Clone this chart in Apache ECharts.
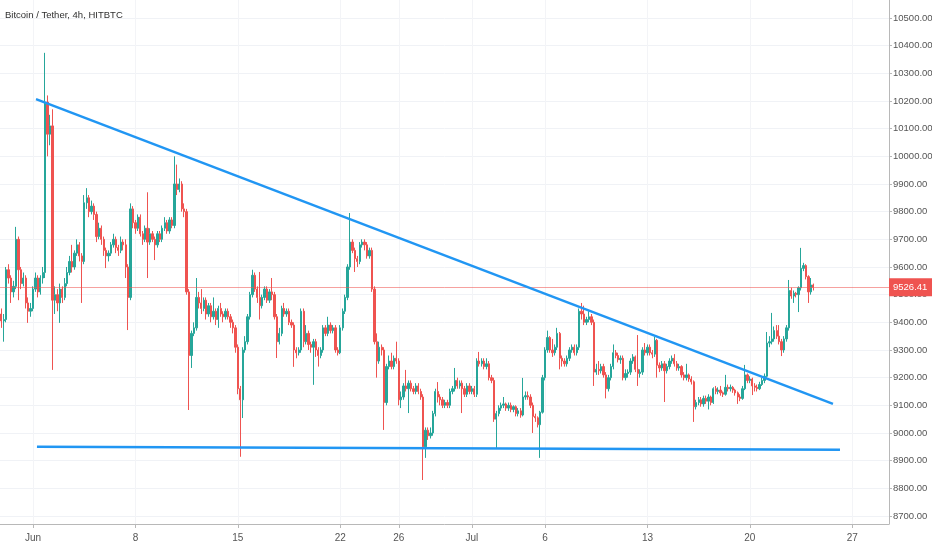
<!DOCTYPE html>
<html>
<head>
<meta charset="utf-8">
<title>Bitcoin / Tether, 4h, HITBTC</title>
<style>
  * { margin: 0; padding: 0; }
  body { background: #fff; }
  #chart { width: 932px; height: 550px; }
</style>
</head>
<body>
<div id="chart"></div>
<script src="https://cdn.jsdelivr.net/npm/echarts@6/dist/echarts.min.js"></script>
<script>
// 4h candles, first bar opens 2020-05-29 20:00 UTC
var firstBar = Date.UTC(2020, 4, 29, 20);
var barMs = 4 * 3600 * 1000;

// [open, close, low, high]
var candles = [
  [9430,9405,9380,9450],[9405,9410,9330,9430],[9410,9590,9400,9600],[9590,9560,9540,9610],[9560,9510,9470,9570],[9510,9530,9490,9550],
  [9530,9700,9520,9745],[9700,9590,9480,9710],[9590,9540,9520,9600],[9540,9560,9530,9580],[9560,9470,9450,9570],[9470,9440,9398,9490],
  [9440,9450,9420,9470],[9450,9520,9440,9530],[9520,9560,9510,9580],[9560,9510,9490,9570],[9510,9560,9500,9570],[9560,9580,9540,9600],
  [9580,10196,9560,10374],[10196,10080,10000,10220],[10080,10110,10040,10150],[10110,9480,9228,10170],[9480,9500,9430,9530],[9500,9470,9440,9520],
  [9470,9520,9398,9540],[9520,9490,9470,9530],[9490,9540,9480,9560],[9540,9580,9530,9600],[9580,9620,9570,9640],[9620,9600,9580,9680],
  [9600,9650,9590,9660],[9650,9680,9640,9700],[9680,9640,9620,9690],[9640,9620,9470,9650],[9620,9832,9610,9860],[9832,9850,9810,9885],
  [9850,9800,9780,9860],[9800,9820,9790,9840],[9820,9790,9770,9830],[9790,9710,9690,9800],[9710,9740,9700,9760],[9740,9700,9680,9750],
  [9700,9660,9640,9710],[9660,9640,9596,9670],[9640,9650,9620,9660],[9650,9680,9640,9690],[9680,9700,9670,9720],[9700,9670,9650,9710],
  [9670,9660,9640,9680],[9660,9690,9650,9710],[9690,9680,9660,9700],[9680,9600,9560,9700],[9600,9490,9372,9610],[9490,9810,9480,9830],
  [9810,9760,9740,9820],[9760,9740,9720,9770],[9740,9780,9730,9790],[9780,9720,9710,9790],[9720,9700,9680,9730],[9700,9740,9690,9750],
  [9740,9690,9560,9870],[9690,9720,9680,9740],[9720,9700,9690,9730],[9700,9680,9625,9710],[9680,9720,9670,9730],[9720,9700,9690,9730],
  [9700,9740,9690,9750],[9740,9760,9730,9780],[9760,9730,9720,9770],[9730,9770,9720,9780],[9770,9750,9740,9780],[9750,9900,9740,10000],
  [9900,9880,9860,9970],[9880,9900,9870,9920],[9900,9810,9800,9910],[9810,9800,9780,9830],[9800,9510,9500,9810],[9510,9280,9083,9520],
  [9280,9360,9235,9370],[9360,9380,9350,9400],[9380,9490,9370,9560],[9490,9470,9450,9510],[9470,9450,9430,9520],[9450,9480,9440,9490],
  [9480,9430,9410,9490],[9430,9460,9420,9470],[9460,9420,9400,9470],[9420,9440,9410,9490],[9440,9410,9390,9450],[9410,9450,9380,9460],
  [9450,9430,9420,9470],[9430,9420,9400,9440],[9420,9440,9410,9450],[9440,9420,9410,9450],[9420,9400,9380,9430],[9400,9380,9360,9410],
  [9380,9310,9290,9390],[9310,9160,9140,9320],[9160,9120,8914,9170],[9120,9300,9054,9310],[9300,9330,9290,9350],[9330,9420,9320,9430],
  [9420,9500,9410,9510],[9500,9570,9490,9590],[9570,9520,9510,9580],[9520,9490,9470,9530],[9490,9460,9410,9582],[9460,9490,9450,9500],
  [9490,9520,9480,9530],[9520,9480,9470,9530],[9480,9510,9470,9520],[9510,9500,9480,9560],[9500,9420,9410,9510],[9420,9330,9271,9430],
  [9330,9360,9320,9380],[9360,9450,9350,9460],[9450,9430,9420,9470],[9430,9440,9420,9450],[9440,9400,9390,9450],[9400,9390,9380,9410],
  [9390,9300,9239,9400],[9300,9290,9270,9310],[9290,9300,9280,9310],[9300,9440,9290,9450],[9440,9330,9310,9450],[9330,9360,9320,9390],
  [9360,9320,9300,9370],[9320,9310,9290,9330],[9310,9330,9174,9340],[9330,9300,9275,9340],[9300,9280,9240,9310],[9280,9300,9270,9310],
  [9300,9380,9290,9390],[9380,9360,9350,9390],[9360,9390,9350,9420],[9390,9370,9360,9400],[9370,9380,9360,9390],[9380,9300,9290,9390],
  [9300,9290,9280,9310],[9290,9380,9285,9390],[9380,9440,9370,9450],[9440,9490,9430,9500],[9490,9600,9480,9610],[9600,9690,9590,9795],
  [9690,9660,9650,9700],[9660,9630,9582,9670],[9630,9620,9600,9640],[9620,9680,9610,9690],[9680,9690,9670,9700],[9690,9680,9660,9700],
  [9680,9640,9630,9690],[9640,9660,9630,9670],[9660,9520,9510,9670],[9520,9330,9320,9530],[9330,9260,9200,9360],[9260,9310,9250,9330],
  [9310,9300,9280,9320],[9300,9110,9011,9310],[9110,9240,9100,9250],[9240,9260,9230,9280],[9260,9240,9230,9290],[9240,9270,9230,9280],
  [9270,9260,9250,9330],[9260,9120,9100,9270],[9120,9130,9090,9150],[9130,9170,9120,9180],[9170,9160,9150,9228],[9160,9180,9072,9190],
  [9180,9160,9150,9190],[9160,9150,9140,9170],[9150,9170,9140,9180],[9170,9150,9140,9180],[9150,9130,9120,9160],[9130,8950,8830,9140],
  [8950,9010,8910,9020],[9010,8990,8975,9020],[8990,9000,8980,9020],[9000,9070,8990,9080],[9070,9150,9060,9160],[9150,9130,9110,9184],
  [9130,9120,9100,9140],[9120,9100,9090,9130],[9100,9110,9090,9120],[9110,9100,9090,9120],[9100,9150,9090,9160],[9150,9160,9140,9170],
  [9160,9190,9150,9235],[9190,9170,9160,9200],[9170,9180,9160,9190],[9180,9160,9072,9190],[9160,9140,9130,9170],[9140,9170,9130,9180],
  [9170,9150,9140,9180],[9150,9160,9140,9170],[9160,9140,9130,9170],[9140,9260,9130,9270],[9260,9250,9240,9293],[9250,9260,9240,9270],
  [9260,9240,9230,9270],[9240,9250,9230,9270],[9250,9200,9190,9260],[9200,9190,9180,9210],[9190,9050,9040,9200],[9050,9070,8946,9080],
  [9070,9090,9060,9100],[9090,9100,9080,9110],[9100,9105,9090,9130],[9105,9090,9080,9110],[9090,9100,9080,9110],[9100,9085,9075,9110],
  [9085,9095,9075,9100],[9095,9070,9060,9100],[9070,9080,9060,9090],[9080,9065,9055,9090],[9065,9130,9060,9199],[9130,9135,9120,9150],
  [9135,9130,9120,9150],[9130,9100,9090,9140],[9100,9060,9000,9110],[9060,9055,9040,9070],[9055,9030,9020,9060],[9030,9075,8910,9080],
  [9075,9200,9070,9210],[9200,9300,9190,9310],[9300,9345,9290,9370],[9345,9300,9290,9350],[9300,9290,9275,9340],[9290,9310,9280,9320],
  [9310,9360,9300,9380],[9360,9270,9230,9365],[9270,9260,9240,9280],[9260,9250,9240,9270],[9250,9270,9240,9280],[9270,9300,9260,9310],
  [9300,9310,9290,9320],[9310,9290,9280,9320],[9290,9310,9280,9320],[9310,9440,9300,9450],[9440,9430,9410,9470],[9430,9400,9390,9460],
  [9400,9410,9390,9420],[9410,9420,9400,9440],[9420,9400,9390,9430],[9400,9220,9170,9410],[9220,9230,9210,9250],[9230,9225,9210,9260],
  [9225,9240,9215,9250],[9240,9210,9200,9250],[9210,9160,9125,9220],[9160,9200,9150,9210],[9200,9240,9190,9250],[9240,9290,9230,9320],
  [9290,9280,9270,9300],[9280,9265,9255,9290],[9265,9270,9250,9280],[9270,9200,9190,9280],[9200,9215,9190,9230],[9215,9220,9200,9230],
  [9220,9260,9210,9270],[9260,9275,9250,9285],[9275,9230,9220,9280],[9230,9215,9170,9354],[9215,9220,9200,9230],[9220,9300,9210,9310],
  [9300,9290,9280,9325],[9290,9310,9280,9320],[9310,9290,9280,9320],[9290,9285,9270,9300],[9285,9335,9275,9347],[9335,9245,9200,9340],
  [9245,9235,9220,9255],[9235,9250,9225,9260],[9250,9225,9112,9260],[9225,9240,9215,9250],[9240,9260,9230,9270],[9260,9270,9250,9280],
  [9270,9250,9240,9285],[9250,9235,9225,9260],[9235,9240,9225,9250],[9240,9210,9200,9245],[9210,9200,9190,9220],[9200,9210,9190,9250],
  [9210,9195,9185,9215],[9195,9185,9175,9205],[9185,9095,9040,9190],[9095,9110,9085,9120],[9110,9120,9100,9130],[9120,9105,9095,9130],
  [9105,9125,9095,9135],[9125,9115,9105,9135],[9115,9130,9085,9140],[9130,9110,9100,9135],[9110,9160,9105,9165],[9160,9150,9140,9170],
  [9150,9155,9140,9165],[9155,9145,9135,9170],[9145,9140,9130,9150],[9140,9165,9135,9210],[9165,9160,9150,9175],[9160,9165,9150,9175],
  [9165,9155,9145,9170],[9155,9145,9135,9160],[9145,9130,9105,9150],[9130,9125,9115,9140],[9125,9160,9120,9170],[9160,9210,9155,9246],
  [9210,9190,9180,9215],[9190,9195,9180,9205],[9195,9170,9137,9200],[9170,9165,9150,9180],[9165,9160,9150,9175],[9160,9175,9155,9185],
  [9175,9190,9170,9200],[9190,9205,9180,9215],[9205,9325,9200,9365],[9325,9330,9310,9350],[9330,9340,9320,9434],[9340,9370,9330,9385],
  [9370,9350,9340,9390],[9350,9330,9320,9390],[9330,9300,9278,9340],[9300,9340,9290,9350],[9340,9380,9330,9390],[9380,9515,9370,9553],
  [9515,9495,9485,9525],[9495,9505,9470,9515],[9505,9500,9490,9510],[9500,9525,9437,9530],[9525,9595,9515,9669],[9595,9605,9585,9615],
  [9605,9565,9555,9610],[9565,9510,9470,9570],[9510,9535,9500,9560],[9535,9526.41,9515,9540]
];
var lastPrice = 9526.41;

// trend lines drawn on the chart: [time, price]
var upperTrend = [[Date.UTC(2020, 5, 1, 4, 55), 10207], [Date.UTC(2020, 6, 25, 16, 20), 9105]];
var supportLine = [[Date.UTC(2020, 5, 1, 6, 30), 8950], [Date.UTC(2020, 6, 26, 3, 50), 8939]];

// axis ticks
var xTickDays = [Date.UTC(2020,5,1), Date.UTC(2020,5,8), Date.UTC(2020,5,15), Date.UTC(2020,5,22), Date.UTC(2020,5,26),
                 Date.UTC(2020,6,1), Date.UTC(2020,6,6), Date.UTC(2020,6,13), Date.UTC(2020,6,20), Date.UTC(2020,6,27)];
var xTickLabels = ['Jun', '8', '15', '22', '26', 'Jul', '6', '13', '20', '27'];
var yTicks = [8700, 8800, 8900, 9000, 9100, 9200, 9300, 9400, 9500, 9600, 9700, 9800, 9900, 10000, 10100, 10200, 10300, 10400, 10500];

var axisFont = "'Liberation Sans', Arial, sans-serif";

var seriesData = candles.map(function (r, i) {
    return [firstBar + i * barMs, r[0], r[1], r[2], r[3]];
});

var chart = echarts.init(document.getElementById('chart'));
chart.setOption({
    animation: false,
    backgroundColor: '#ffffff',
    title: {
        text: 'Bitcoin / Tether, 4h, HITBTC',
        left: 5,
        top: 10,
        padding: 0,
        textStyle: { fontSize: 9.5, fontWeight: 'normal', color: '#2f2f2f', fontFamily: axisFont }
    },
    grid: { left: 0, right: 43, top: 0, bottom: 26, outerBoundsMode: 'none' },
    // timestamps on a plain value axis so the tick list can be given exactly
    xAxis: {
        type: 'value',
        min: Date.UTC(2020, 4, 29, 17, 51),
        max: Date.UTC(2020, 6, 29, 12, 15),
        axisLine: { lineStyle: { color: '#b8b8b8' } },
        axisTick: { customValues: xTickDays, length: 4, lineStyle: { color: '#b8b8b8' } },
        axisLabel: {
            customValues: xTickDays,
            margin: 9,
            color: '#555',
            fontSize: 10,
            fontFamily: axisFont,
            formatter: function (v) {
                for (var i = 0; i < xTickDays.length; i++) {
                    if (Math.abs(xTickDays[i] - v) < 60000) return xTickLabels[i];
                }
                return '';
            }
        },
        splitLine: { show: true, lineStyle: { color: '#f3f4f7' } }
    },
    yAxis: {
        type: 'value',
        position: 'right',
        min: 8671,
        max: 10565,
        axisLine: { show: true, lineStyle: { color: '#b8b8b8' } },
        axisTick: { show: true, customValues: yTicks, length: 3, lineStyle: { color: '#b8b8b8' } },
        axisLabel: {
            customValues: yTicks,
            margin: 4,
            color: '#555',
            fontSize: 9.5,
            fontFamily: axisFont,
            formatter: function (v) { return v.toFixed(2); }
        },
        splitLine: { show: true, lineStyle: { color: '#f0f2f6' } }
    },
    series: [
        {
            name: 'BTCUSDT',
            type: 'candlestick',
            data: seriesData,
            encode: { x: 0, y: [1, 2, 3, 4] },
            barWidth: 1.8,
            itemStyle: {
                color: '#26a69a',
                color0: '#ef5350',
                borderColor: '#26a69a',
                borderColor0: '#ef5350',
                borderWidth: 1
            },
            markLine: {
                silent: true,
                symbol: ['none', 'none'],
                data: [{ yAxis: lastPrice }],
                lineStyle: { color: 'rgba(239,83,80,0.55)', width: 1, type: 'solid' },
                label: {
                    position: 'end',
                    distance: 0,
                    formatter: function () { return lastPrice.toFixed(2); },
                    backgroundColor: '#ef5350',
                    color: '#ffffff',
                    fontSize: 9.5,
                    fontFamily: axisFont,
                    padding: [4, 5, 4, 4]
                }
            }
        },
        {
            name: 'trend',
            type: 'line',
            data: upperTrend,
            symbol: 'none',
            z: 5,
            lineStyle: { color: '#2196f3', width: 2.5 }
        },
        {
            name: 'support',
            type: 'line',
            data: supportLine,
            symbol: 'none',
            z: 5,
            lineStyle: { color: '#2196f3', width: 2.5 }
        }
    ]
});
</script>
</body>
</html>
